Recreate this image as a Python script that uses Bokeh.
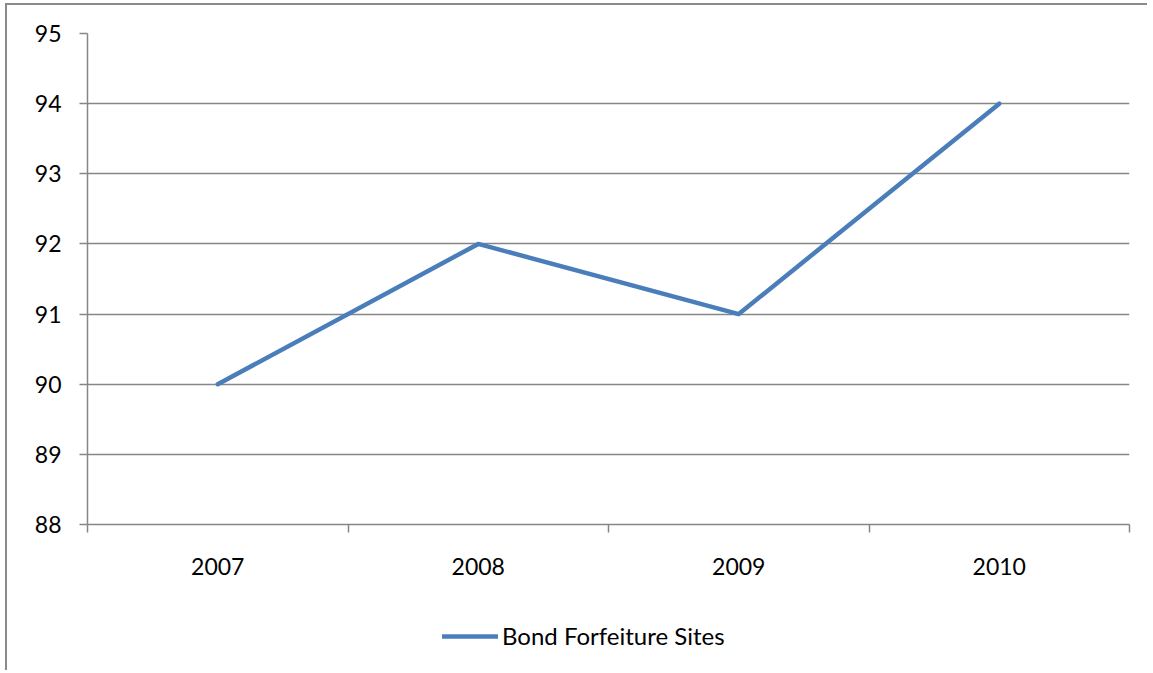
from bokeh.plotting import figure
from bokeh.layouts import column
from bokeh.models import FixedTicker, Legend, LegendItem
from bokeh.embed import file_html
from bokeh.resources import INLINE

years = ["2007", "2008", "2009", "2010"]
values = [90, 92, 91, 94]
y_ticks = [88, 89, 90, 91, 92, 93, 94, 95]
series_name = "Bond Forfeiture Sites"

FONT = "Lato"
GRAY = "#868686"
BLUE = "#4A7EBB"

xs = [i + 0.5 for i in range(len(years))]

p = figure(width=1140, height=589,
           x_range=(0, len(years)), y_range=(min(y_ticks), max(y_ticks)),
           min_border_left=80, min_border_right=18, min_border_top=28, min_border_bottom=70,
           output_backend="svg", toolbar_location=None)
p.outline_line_color = None
p.background_fill_color = "white"
p.border_fill_color = "white"

r = p.line(xs, values, line_color=BLUE, line_width=4.5, line_join="round", line_cap="round")

xt = FixedTicker(ticks=xs, minor_ticks=list(range(len(years) + 1)))
p.xaxis.ticker = xt
p.xaxis.major_label_overrides = {x: y for x, y in zip(xs, years)}
p.xaxis.major_tick_line_color = None
p.xaxis.minor_tick_line_color = GRAY
p.xaxis.minor_tick_line_width = 1.5
p.xaxis.minor_tick_out = 8
p.xaxis.minor_tick_in = 0
p.xaxis.axis_line_color = GRAY
p.xaxis.axis_line_width = 1.5
p.xaxis.major_label_standoff = 25
p.xaxis.major_label_text_font = FONT
p.xaxis.major_label_text_font_size = "23px"
p.xaxis.major_label_text_color = "black"

p.yaxis.ticker = FixedTicker(ticks=y_ticks)
p.yaxis.minor_tick_line_color = None
p.yaxis.major_tick_line_color = GRAY
p.yaxis.major_tick_line_width = 1.5
p.yaxis.major_tick_out = 8
p.yaxis.major_tick_in = 0
p.yaxis.axis_line_color = GRAY
p.yaxis.axis_line_width = 1.5
p.yaxis.major_label_standoff = 18
p.yaxis.major_label_text_font = FONT
p.yaxis.major_label_text_font_size = "23px"
p.yaxis.major_label_text_color = "black"

p.xgrid.grid_line_color = None
p.ygrid.ticker = FixedTicker(ticks=y_ticks)
p.ygrid.grid_line_color = GRAY
p.ygrid.grid_line_width = 1.5

# legend strip below the chart
lg = figure(width=1140, height=76, x_range=(0, len(years)), y_range=(0, 1),
            min_border=0, output_backend="svg", toolbar_location=None,
            x_axis_type=None, y_axis_type=None)
lg.outline_line_color = None
lg.grid.grid_line_color = None
lg.background_fill_color = "white"
lg.border_fill_color = "white"
r2 = lg.line(xs, values, line_color=BLUE, line_width=4.5, line_join="round", line_cap="round")

legend = Legend(items=[LegendItem(label=series_name, renderers=[r2])],
                location=(355, 20), orientation="horizontal",
                border_line_color=None, background_fill_alpha=0,
                padding=0, spacing=0, margin=0,
                glyph_width=56, glyph_height=22, label_standoff=4,
                label_text_font=FONT, label_text_font_size="24px",
                label_text_color="black")
lg.add_layout(legend, "center")

layout = column(p, lg, spacing=0, margin=(3, 0, 0, 5),
                styles={"border-top": "2px solid #8a8a8a", "border-left": "2px solid #8a8a8a"})

open("out.html", "w").write(file_html(layout, INLINE))
